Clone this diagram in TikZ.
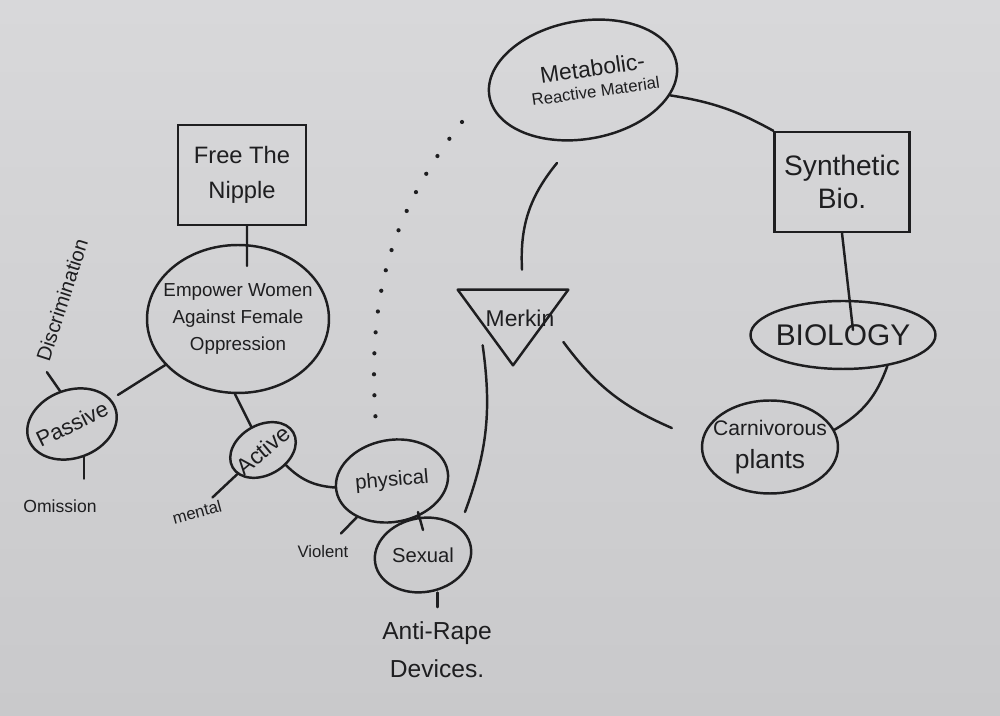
\documentclass[tikz,border=0pt]{standalone}
\usepackage{fontspec}
\setmainfont{Liberation Sans}
\usetikzlibrary{shapes.geometric,calc}
\definecolor{paper}{HTML}{D8D8DA}
\definecolor{paperdark}{HTML}{C9C9CB}
\definecolor{ink}{HTML}{1E1E20}
\begin{document}
\begin{tikzpicture}[x=0.02cm,y=0.02cm,
  ink/.style={draw=ink,line width=1.4pt},
  bub/.style={ink,ellipse,inner sep=0pt},
  box/.style={ink,rectangle,inner sep=0pt,align=center,text=ink},
  lbl/.style={text=ink,align=center,inner sep=0pt},
  note/.style={text=ink,align=center,inner sep=2pt},
  con/.style={ink,line cap=round},
  dots/.style={draw=ink,line width=2.4pt,line cap=round,dash pattern=on 0pt off 0.42cm}]
\shade[top color=paper,bottom color=paperdark] (0,0) rectangle (1000,716);
\useasboundingbox (0,0) rectangle (1000,716);

% right cluster
\node[bub,minimum width=3.8cm,minimum height=2.36cm,rotate=10,
  label={[lbl,rotate=8,xshift=0.22cm]center:{\fontsize{13}{16}\selectfont Metabolic-\\\fontsize{9.5}{13}\selectfont Reactive Material}}] (meta) at (583,636) {};
\node[box,minimum width=2.7cm,minimum height=2cm,font=\fontsize{16}{19}\selectfont] (syn) at (842,534) {Synthetic\\Bio.};
\node[bub,minimum width=3.7cm,minimum height=1.36cm,
  label={[lbl,font=\fontsize{17}{20}\selectfont]center:BIOLOGY}] (bio) at (843,381) {};
\node[bub,minimum width=2.72cm,minimum height=1.86cm,
  label={[lbl,font=\fontsize{12}{19}\selectfont]center:{Carnivorous\\\fontsize{15}{19}\selectfont plants}}] (carn) at (770,269) {};
\node[minimum width=2.2cm,minimum height=1.5cm,inner sep=0pt,
  label={[lbl,font=\fontsize{13}{16}\selectfont,xshift=0.14cm,yshift=0.19cm]center:Merkin}] (merkin) at (513,388.5) {};
\draw[ink,line join=round] (merkin.north west) -- (merkin.north east) -- (merkin.south) -- cycle;

% left cluster
\node[box,minimum width=2.56cm,minimum height=2cm,font=\fontsize{13.5}{20}\selectfont] (free) at (242,541) {Free The\\Nipple};
\node[bub,minimum width=3.64cm,minimum height=2.96cm,
  label={[lbl,font=\fontsize{10.7}{15.4}\selectfont]center:{Empower Women\\Against Female\\Oppression}}] (emp) at (238,397) {};
\node[bub,minimum width=1.84cm,minimum height=1.36cm,rotate=20,
  label={[lbl,rotate=26,font=\fontsize{12.5}{15}\selectfont]center:Passive}] (pas) at (72,292) {};
\node[bub,minimum width=1.4cm,minimum height=1cm,rotate=30,
  label={[lbl,rotate=40,font=\fontsize{13}{15}\selectfont]center:Active}] (act) at (263,266) {};
\node[bub,minimum width=2.26cm,minimum height=1.64cm,rotate=10,
  label={[lbl,rotate=5,font=\fontsize{11.6}{14}\selectfont]center:physical}] (phys) at (392,235) {};
\node[bub,minimum width=1.94cm,minimum height=1.48cm,rotate=10,
  label={[lbl,font=\fontsize{11.5}{14}\selectfont]center:Sexual}] (sex) at (423,161) {};

\node[note,rotate=72,font=\fontsize{11.5}{13}\selectfont] (disc) at (62,416) {Discrimination};
\node[note,font=\fontsize{10}{12}\selectfont] (omi) at (60,210) {Omission};
\node[note,rotate=15,font=\fontsize{9.5}{11}\selectfont] (men) at (197,204) {mental};
\node[note,font=\fontsize{9.5}{11}\selectfont] (vio) at (323,164) {Violent};
\node[note,font=\fontsize{14}{21.6}\selectfont] (anti) at (437,66) {Anti-Rape\\Devices.};

% connectors
\draw[con] (meta.-20) to[bend left=10] (syn.north west);
\draw[con] (syn.south) -- ($(bio.center)+(10,5)$);
\draw[con] (bio.-35) to[bend left=20] (carn.15);
\draw[con] ($(meta.center)+(-26,-83)$) to[bend right=21] ($(merkin.north)+(9,20)$);
\draw[con] ($(merkin.east)+(-5,-14.5)$) to[bend right=15] ($(carn.west)+(-29,19)$);
\draw[con] ($(merkin.south west)+(25,20)$) to[bend left=14] ($(sex.center)+(42,43)$);
\draw[con] ([xshift=-0.06cm]emp.south) -- (act);
\draw[con] (act) to[bend right=20] (phys);
\draw[con] (act) -- (men);
\draw[con,shorten >=0.16cm] (emp) -- (pas);
\draw[con,shorten >=0.2cm] (pas.north) -- (disc.west);
\draw[con,shorten >=0.34cm] (pas.south) -- (pas.south |- omi.north);
\draw[con] ([xshift=0.1cm]free.south) -- ($(emp.north)+(9,-22)$);
\draw[con] ($(phys.center)+(26,-31)$) -- ($(sex.center)+(0,25)$);
\draw[con,shorten >=0.24cm] (phys) -- (vio);
\draw[con] ($(sex.south)+(8,0)$) -- ($(sex.south |- anti.north)+(8,11)$);
\draw[dots] ($(meta.center)+(-121,-42)$) to[out=-128,in=95] ($(phys.center)+(-15,44)$);
\end{tikzpicture}
\end{document}
